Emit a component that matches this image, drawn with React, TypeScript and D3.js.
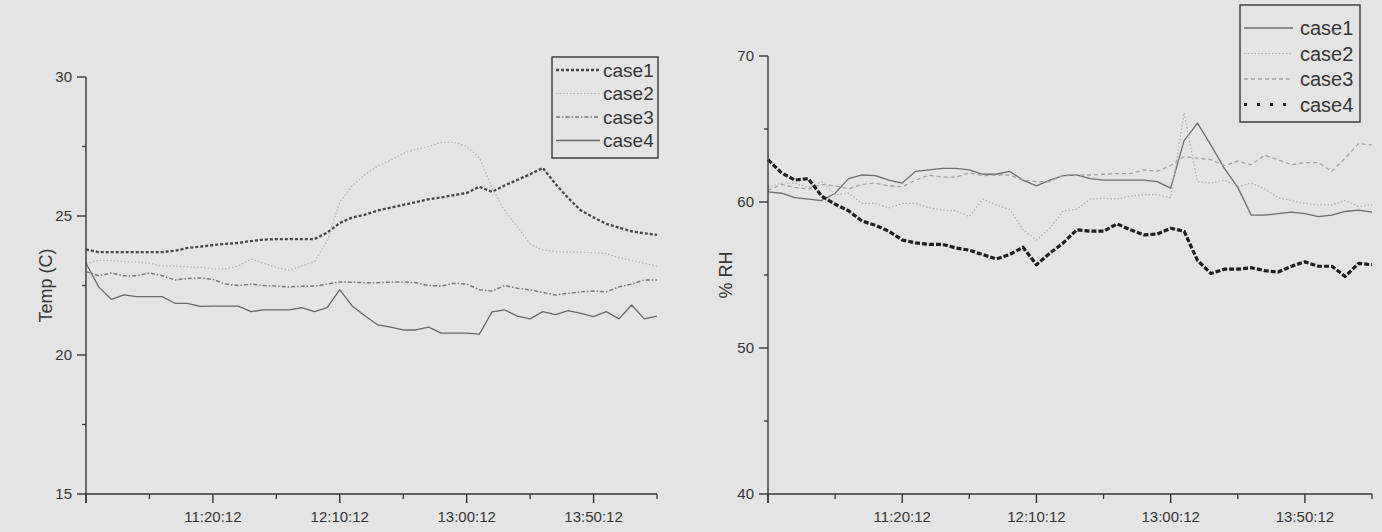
import React from 'react';
import * as d3 from 'd3';

// page / paper look
const W = 1382;
const H = 532;
const BG = '#e4e4e4';
const INK = '#363636';
const FONT = "'Liberation Sans', Arial, sans-serif";

// shared time axis
const timeDomain = ['10:30:12', '14:15:12'];
const majorTicks = ['10:30:12', '11:20:12', '12:10:12', '13:00:12', '13:50:12'];
const minorTicks = ['10:55:12', '11:45:12', '12:35:12', '13:25:12', '14:15:12'];
const tickLabels = ['', '11:20:12', '12:10:12', '13:00:12', '13:50:12'];
const sampleStart = '10:30:12';
const sampleStepMin = 5;

const caseNames = ['case1', 'case2', 'case3', 'case4'];

// temperature panel (C), one value every 5 minutes
const tempCase1 = [23.8, 23.7, 23.7, 23.7, 23.7, 23.7, 23.7, 23.75, 23.85, 23.9,
  23.95, 24.0, 24.03, 24.1, 24.15, 24.17, 24.17, 24.17, 24.17, 24.4,
  24.75, 24.95, 25.05, 25.2, 25.3, 25.4, 25.5, 25.6, 25.67, 25.75,
  25.83, 26.05, 25.87, 26.1, 26.3, 26.5, 26.73, 26.15, 25.65, 25.2,
  24.95, 24.72, 24.58, 24.45, 24.38, 24.32];
const tempCase2 = [23.3, 23.4, 23.4, 23.35, 23.35, 23.3, 23.2, 23.2, 23.17, 23.15,
  23.1, 23.1, 23.2, 23.45, 23.3, 23.15, 23.05, 23.2, 23.35, 24.1,
  25.5, 26.1, 26.5, 26.8, 27.0, 27.25, 27.4, 27.5, 27.65, 27.66,
  27.5, 27.1, 26.0, 25.2, 24.6, 24.0, 23.78, 23.72, 23.7, 23.7,
  23.68, 23.65, 23.5, 23.4, 23.3, 23.2];
const tempCase3 = [23.0, 22.85, 22.95, 22.85, 22.85, 22.95, 22.85, 22.7, 22.75, 22.77,
  22.72, 22.55, 22.5, 22.55, 22.5, 22.48, 22.45, 22.47, 22.48, 22.55,
  22.63, 22.62, 22.6, 22.6, 22.62, 22.63, 22.6, 22.5, 22.48, 22.58,
  22.55, 22.35, 22.3, 22.5, 22.4, 22.34, 22.25, 22.16, 22.22, 22.27,
  22.3, 22.27, 22.45, 22.55, 22.7, 22.7];
const tempCase4 = [23.3, 22.45, 22.0, 22.16, 22.1, 22.1, 22.1, 21.86, 21.86, 21.75,
  21.76, 21.76, 21.76, 21.56, 21.62, 21.62, 21.62, 21.7, 21.56, 21.7,
  22.35, 21.75, 21.4, 21.08, 21.0, 20.9, 20.9, 21.0, 20.79, 20.79,
  20.79, 20.75, 21.55, 21.62, 21.4, 21.3, 21.56, 21.45, 21.6, 21.5,
  21.38, 21.56, 21.3, 21.8, 21.3, 21.4];

// humidity panel (% RH), one value every 5 minutes
const rhCase1 = [60.7, 60.6, 60.3, 60.2, 60.1, 60.6, 61.6, 61.85, 61.8, 61.5,
  61.3, 62.1, 62.2, 62.3, 62.3, 62.2, 61.9, 61.9, 62.1, 61.5,
  61.1, 61.5, 61.8, 61.85, 61.6, 61.5, 61.5, 61.5, 61.5, 61.4,
  60.95, 64.2, 65.4, 63.9, 62.3, 61.0, 59.1, 59.1, 59.2, 59.3,
  59.2, 59.0, 59.1, 59.35, 59.45, 59.3];
const rhCase2 = [61.0, 61.3, 61.3, 61.0, 61.4, 60.5, 60.6, 59.9, 59.9, 59.6,
  59.9, 59.9, 59.6, 59.45, 59.4, 59.0, 60.2, 59.8, 59.5, 58.1,
  57.4, 58.2, 59.4, 59.5, 60.2, 60.25, 60.2, 60.4, 60.5, 60.5,
  60.3, 66.1, 61.4, 61.3, 61.5, 61.05, 61.3, 60.9, 60.3, 60.1,
  59.9, 59.8, 59.8, 60.1, 59.7, 59.8];
const rhCase3 = [60.8, 61.2, 61.0, 60.9, 61.2, 61.1, 60.9, 61.2, 61.3, 61.1,
  61.05, 61.5, 61.85, 61.7, 61.7, 62.0, 61.8, 61.85, 61.85, 61.5,
  61.4, 61.4, 61.85, 61.85, 61.85, 61.9, 61.95, 61.95, 62.2, 62.1,
  62.5, 63.1, 63.0, 62.9, 62.5, 62.8, 62.55, 63.2, 62.9, 62.55,
  62.7, 62.7, 62.1, 63.0, 64.0, 63.9];
const rhCase4 = [62.9, 62.0, 61.5, 61.6, 60.4, 59.85, 59.4, 58.7, 58.4, 58.0,
  57.4, 57.2, 57.1, 57.1, 56.85, 56.7, 56.4, 56.1, 56.4, 56.9,
  55.7, 56.5, 57.2, 58.1, 58.0, 58.0, 58.5, 58.1, 57.75, 57.8,
  58.2, 58.0, 56.0, 55.1, 55.4, 55.4, 55.5, 55.3, 55.2, 55.6,
  55.9, 55.6, 55.6, 54.9, 55.8, 55.7];

const tempTicks = [15, 20, 25, 30];
const tempMinor = [17.5, 22.5, 27.5];
const rhTicks = [40, 50, 60, 70];
const rhMinor = [45, 55, 65];

const parse = d3.timeParse('%H:%M:%S');

type LineStyle = { stroke: string; width: number; dash?: string; legendDash?: string };

// line styles, like the origin plot
const tempStyles: LineStyle[] = [
  { stroke: '#474747', width: 2.3, dash: '3 2' },
  { stroke: '#b4b4b4', width: 1.2, dash: '1.5 2' },
  { stroke: '#7a7a7a', width: 1.5, dash: '4 2 1.5 2' },
  { stroke: '#6a6a6a', width: 1.3 },
];
const rhStyles: LineStyle[] = [
  { stroke: '#6e6e6e', width: 1.3 },
  { stroke: '#b0b0b0', width: 1.2, dash: '1.5 2' },
  { stroke: '#a4a4a4', width: 1.3, dash: '4 3' },
  { stroke: '#1e1e1e', width: 3.2, dash: '5 2', legendDash: '3 10' },
];

const Panel = ({ left, right, top, bottom, yDomain, yMajor, yMinor, series, styles, yTitle, titleX, legend }) => {
  const times = series[0].map((_, i) => d3.timeMinute.offset(parse(sampleStart), i * sampleStepMin));
  const x = d3.scaleTime().domain(timeDomain.map(t => parse(t))).range([left, right]);
  const y = d3.scaleLinear().domain(yDomain).range([bottom, top]);
  const line = d3.line<number>().x((_, i) => x(times[i])).y(d => y(d));

  return (
    <g>
      {series.map((s, i) => (
        <path key={caseNames[i]} d={line(s) || ''} fill="none" stroke={styles[i].stroke}
          strokeWidth={styles[i].width} strokeDasharray={styles[i].dash}
          strokeLinejoin="round" />
      ))}

      {/* y axis */}
      <line x1={left} x2={left} y1={y(yDomain[1])} y2={bottom + 9} stroke={INK} strokeWidth={1.4} />
      {yMajor.map(v => (
        <g key={'ym' + v}>
          <line x1={left - 9} x2={left} y1={y(v)} y2={y(v)} stroke={INK} strokeWidth={1.4} />
          <text x={left - 14} y={y(v)} dy="0.35em" textAnchor="end" fontSize={15} fill={INK}>{v}</text>
        </g>
      ))}
      {yMinor.map(v => (
        <line key={'yn' + v} x1={left - 4} x2={left} y1={y(v)} y2={y(v)} stroke={INK} strokeWidth={1.3} />
      ))}
      <text transform={`translate(${titleX},${(top + bottom) / 2}) rotate(-90)`} textAnchor="middle"
        dy="0.35em" fontSize={18} fill={INK}>{yTitle}</text>

      {/* x axis */}
      <line x1={left} x2={right} y1={bottom} y2={bottom} stroke={INK} strokeWidth={1.4} />
      {majorTicks.map((t, i) => (
        <g key={'xm' + t}>
          <line x1={x(parse(t))} x2={x(parse(t))} y1={bottom} y2={bottom + 9} stroke={INK} strokeWidth={1.4} />
          <text x={x(parse(t))} y={bottom + 28} textAnchor="middle" fontSize={15} fill={INK}>{tickLabels[i]}</text>
        </g>
      ))}
      {minorTicks.map(t => (
        <line key={'xn' + t} x1={x(parse(t))} x2={x(parse(t))} y1={bottom} y2={bottom + 5} stroke={INK} strokeWidth={1.3} />
      ))}

      {/* legend */}
      <rect x={legend.x} y={legend.y} width={legend.w} height={legend.h} fill="none" stroke={INK} strokeWidth={1.4} />
      {caseNames.map((name, i) => {
        const ly = legend.y + legend.first + i * legend.step;
        return (
          <g key={'lg' + name}>
            <line x1={legend.x + 4} x2={legend.x + legend.sample} y1={ly} y2={ly}
              stroke={styles[i].stroke} strokeWidth={styles[i].width}
              strokeDasharray={styles[i].legendDash || styles[i].dash} />
            <text x={legend.x + legend.sample + legend.gap} y={ly} dy="0.35em" fontSize={legend.font} fill={INK}>{name}</text>
          </g>
        );
      })}
    </g>
  );
};

export default function App() {
  return (
    <svg width={W} height={H} style={{ position: 'fixed', left: 0, top: 0, display: 'block', background: BG }}
      fontFamily={FONT}>
      <rect width={W} height={H} fill={BG} />
      <Panel left={86} right={657} top={77} bottom={494} yDomain={[15, 30]} yMajor={tempTicks} yMinor={tempMinor}
        series={[tempCase1, tempCase2, tempCase3, tempCase4]} styles={tempStyles}
        yTitle="Temp (C)" titleX={46}
        legend={{ x: 552, y: 57, w: 106, h: 101, first: 13, step: 23.5, sample: 48, gap: 3, font: 19 }} />
      <Panel left={768} right={1372} top={56} bottom={494} yDomain={[40, 70]} yMajor={rhTicks} yMinor={rhMinor}
        series={[rhCase1, rhCase2, rhCase3, rhCase4]} styles={rhStyles}
        yTitle="% RH" titleX={726}
        legend={{ x: 1240, y: 5, w: 120, h: 117, first: 23, step: 25.5, sample: 53, gap: 7, font: 20 }} />
    </svg>
  );
}
